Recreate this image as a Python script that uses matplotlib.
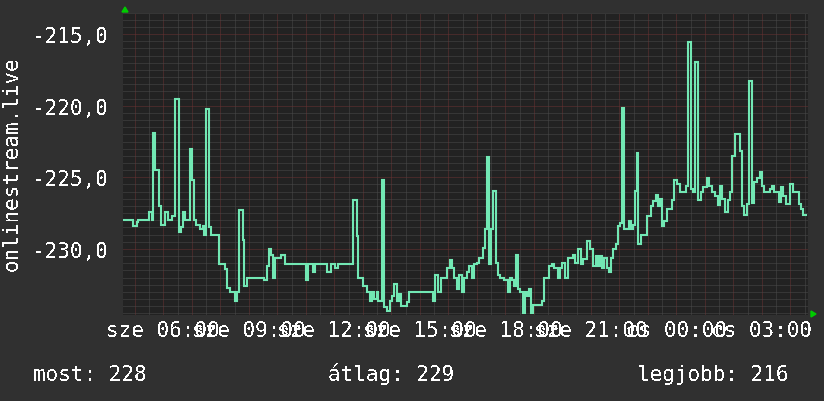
import matplotlib
matplotlib.use("Agg")
import matplotlib.pyplot as plt
from matplotlib.patches import Polygon
import numpy as np

# ---------------- data (hours since midnight of day 1, value) ----------------
times = [
    4.59, 4.95, 5.066, 5.124, 5.51, 5.592, 5.65, 5.72, 5.861, 5.93,
    6.06, 6.177, 6.294, 6.411, 6.54, 6.61, 6.68, 6.773, 6.937, 7.007,
    7.066, 7.148, 7.288, 7.382, 7.44, 7.499, 7.616, 7.686, 7.966, 8.165,
    8.247, 8.34, 8.516, 8.6, 8.656, 8.785, 8.843, 8.949, 9.534, 9.627,
    9.697, 9.779, 9.838, 9.92, 10.12, 10.27, 11.007, 11.09, 11.24, 11.323,
    11.756, 11.87, 12.025, 12.14,
    12.667, 12.784, 12.843, 13.018, 13.135, 13.252, 13.334, 13.404, 13.486, 13.545,
    13.673, 13.755, 13.837, 13.954, 14.036, 14.106, 14.188, 14.27, 14.34, 14.539,
    14.621, 15.474, 15.533, 15.65, 15.743, 15.942, 16.059, 16.118, 16.211, 16.293,
    16.375, 16.468, 16.55, 16.644, 16.726, 16.819, 16.901, 16.995, 17.077, 17.229,
    17.287, 17.346, 17.428, 17.498, 17.58, 17.662, 17.732, 17.814, 17.966, 18.106,
    18.164, 18.246, 18.316, 18.363, 18.433, 18.515, 18.632, 18.691, 18.749, 18.831,
    18.901, 18.983, 19.275, 19.357, 19.533, 19.626, 19.72, 19.837, 19.919, 20.001,
    20.094, 20.188, 20.387,
    20.445, 20.562, 20.656, 20.737, 20.854, 20.971, 21.088, 21.17, 21.24, 21.322,
    21.404, 21.474, 21.556, 21.638, 21.708, 21.79, 21.872, 21.965, 22.024, 22.106,
    22.176, 22.34, 22.41, 22.492, 22.55, 22.609, 22.667, 22.761, 22.96, 23.112,
    23.194, 23.275, 23.345, 23.427, 23.509, 23.579, 23.661, 23.837, 23.919, 24.012,
    24.129, 24.328, 24.422, 24.515, 24.574, 24.656, 24.773, 24.866, 24.948, 25.065,
    25.158, 25.24, 25.357, 25.451, 25.533, 25.615, 25.708, 25.802, 25.884, 25.966,
    26.059, 26.234, 26.316, 26.386, 26.468, 26.55, 26.644, 26.737, 26.819, 26.936,
    27.018, 27.088, 27.287, 27.369, 27.439, 27.603, 27.673, 27.755, 27.837, 27.989,
    28.106, 28.305, 28.375, 28.457, 28.54,
]
values = [
    -228.0, -228.4, -228.1, -228.0, -227.4, -228.0, -221.9, -224.5, -227.0, -228.3,
    -227.4, -228.0, -227.7, -219.5, -228.8, -228.5, -227.4, -228.0, -223.0, -225.2,
    -228.0, -228.3, -228.6, -228.4, -229.0, -220.2, -228.5, -229.0, -231.05, -231.4,
    -232.7, -233.0, -233.6, -233.0, -227.3, -229.4, -232.6, -232.0, -232.2, -231.2,
    -230.0, -230.4, -232.0, -230.65, -230.4, -231.05, -232.15, -231.05, -231.6, -231.05,
    -231.6, -231.05, -231.3, -231.05,
    -226.56, -229.07, -232.0, -232.6, -233.0, -233.6, -233.0, -233.5, -233.0, -233.6,
    -225.17, -234.07, -234.3, -233.6, -233.25, -232.45, -233.6, -233.15, -234.0, -233.7,
    -233.03, -233.6, -231.8, -233.03, -232.0, -231.35, -230.8, -231.35, -232.0, -232.8,
    -231.8, -233.0, -232.0, -231.6, -231.2, -232.0, -231.05, -230.95, -230.63, -229.9,
    -228.6, -223.6, -231.05, -228.6, -225.93, -230.95, -231.8, -232.0, -232.2, -233.03,
    -232.0, -232.2, -232.6, -230.4, -232.8, -233.03, -234.47, -233.03, -233.25, -232.8,
    -234.47, -233.9, -233.6, -232.0, -231.2, -231.05, -231.35, -232.0, -231.35, -230.95,
    -232.0, -230.65, -230.4,
    -230.95, -230.0, -231.05, -230.7, -229.42, -230.0, -231.2, -230.5, -231.2, -230.5,
    -231.3, -230.65, -231.35, -231.6, -230.65, -230.0, -229.65, -228.4, -228.2, -220.19,
    -228.6, -228.05, -228.6, -228.3, -225.93, -223.33, -229.65, -229.03, -227.68, -226.98,
    -226.67, -226.2, -226.98, -226.5, -228.4, -228.05, -227.2, -226.6, -225.17, -225.45,
    -226.0, -225.6, -215.53, -225.83, -226.0, -216.93, -226.6, -226.05, -225.7, -225.05,
    -225.6, -226.05, -226.3, -226.93, -225.6, -226.5, -227.4, -226.6, -226.0, -223.5,
    -221.98, -223.14, -226.98, -227.6, -226.86, -218.26, -226.8, -225.33, -225.05, -224.6,
    -225.6, -226.0, -225.83, -225.6, -226.0, -226.7, -225.7, -226.3, -226.86, -225.45,
    -226.05, -226.86, -227.2, -227.6, -227.6,
]

tick_hours = [6, 9, 12, 15, 18, 21, 24, 27]
tick_labels = ["sze 06:00", "sze 09:00", "sze 12:00", "sze 15:00",
               "sze 18:00", "sze 21:00", "cs 00:00", "cs 03:00"]
ytick_values = [-215.0, -220.0, -225.0, -230.0]
ytick_labels = ["-215,0", "-220,0", "-225,0", "-230,0"]
y_title = "onlinestream.live"
legend_items = ["most: 228", "átlag: 229", "legjobb: 216"]

# ---------------- style ----------------
plt.rcParams['font.family'] = ['DejaVu Sans Mono', 'DejaVu Sans']
plt.rcParams['text.antialiased'] = False

W, H = 824, 402
BG = '#303030'
PLOT_BG = '#222222'
LINE = '#72e8b4'
FONT = 15

fig = plt.figure(figsize=(W / 100, H / 100), dpi=100, facecolor=BG)
L, R, T, B = 123, 808, 14, 316
ax = fig.add_axes([L / W, 1 - B / H, (R - L) / W, (B - T) / H])
ax.set_facecolor(PLOT_BG)
for s in ax.spines.values():
    s.set_visible(False)

xmin, xmax = 4.586, 28.62
ymin, ymax = -234.61, -213.53
ax.set_xlim(xmin, xmax)
ax.set_ylim(ymin, ymax)

# grid
dot = (0, (1, 1))
for xv in np.arange(4.5, 29.0, 0.5):
    if xmin < xv < xmax:
        major = abs(xv - round(xv)) < 1e-6
        ax.axvline(xv, color='#6a3232' if major else '#4a4a4a', lw=0.72,
                   ls=dot, zorder=1)
for yv in np.arange(-234.5, -213.4, 0.5):
    major = abs((yv / 5) - round(yv / 5)) < 1e-6
    ax.axhline(yv, color='#6a3232' if major else '#4a4a4a', lw=0.72,
               ls=dot, zorder=1)

ax.plot(times, values, drawstyle='steps-post', color=LINE, lw=1.5,
        zorder=3, solid_joinstyle='miter')

ax.set_xticks(tick_hours)
ax.set_xticklabels(tick_labels)
ax.set_yticks(ytick_values)
ax.set_yticklabels(ytick_labels)
ax.tick_params(axis='both', length=0, colors='white', labelsize=FONT)
ax.tick_params(axis='x', pad=3.5)
ax.tick_params(axis='y', pad=10.5)

fig.text(12 / W, 1 - 164 / H, y_title, rotation=90, ha='center', va='center',
         color='white', fontsize=FONT)

legend_x = [33, 328, 637]
for x, txt in zip(legend_x, legend_items):
    fig.text(x / W, 1 - 381 / H, txt, ha='left', va='baseline',
             color='white', fontsize=FONT)

# rrdtool style axis arrows
fig.add_artist(Polygon([(122 / W, 1 - 13 / H), (128 / W, 1 - 13 / H),
                        (125 / W, 1 - 8 / H)], closed=True,
                       transform=fig.transFigure, color='#00cc00'))
fig.add_artist(Polygon([(811 / W, 1 - 312 / H), (811 / W, 1 - 318 / H),
                        (816 / W, 1 - 315 / H)], closed=True,
                       transform=fig.transFigure, color='#00cc00'))

fig.savefig('out.png', dpi=100, facecolor=BG)
